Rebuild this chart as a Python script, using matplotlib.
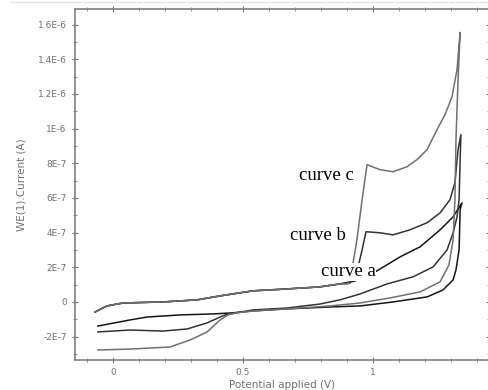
#CV curves a, b, c
import matplotlib.pyplot as plt
import numpy as np

#data (potential in V, current in 1e-7 A)
#common forward part at low potential
fwd_v = [-0.069, -0.023, 0.038, 0.192, 0.323, 0.412, 0.538, 0.669, 0.796, 0.873]
fwd_i = [-0.58, -0.23, -0.06, 0.0, 0.12, 0.35, 0.64, 0.75, 0.87, 1.04]

#curve a
a_v = [0.931, 1.008, 1.104, 1.181, 1.258, 1.308, 1.342,
       1.335, 1.331, 1.319, 1.308, 1.269, 1.208, 1.077, 0.950, 0.835, 0.669, 0.538, 0.45,
       0.385, 0.258, 0.131, 0.065, -0.058]
a_i = [1.21, 1.73, 2.60, 3.18, 4.16, 4.91, 5.72,
       5.32, 3.01, 1.85, 1.27, 0.69, 0.29, 0.0, -0.23, -0.29, -0.40, -0.52, -0.64,
       -0.69, -0.75, -0.87, -1.04, -1.39]

#curve b
b_v = [0.912, 0.938, 0.958, 0.973, 1.027, 1.077, 1.142, 1.208, 1.258, 1.296, 1.315, 1.327, 1.338,
       1.335, 1.331, 1.323, 1.308, 1.285, 1.231, 1.154, 1.054, 0.950, 0.873, 0.796, 0.669, 0.538, 0.431,
       0.412, 0.362, 0.285, 0.192, 0.065, -0.058]
b_i = [1.1, 1.73, 3.0, 4.05, 3.99, 3.87, 4.16, 4.57, 5.14, 5.9, 6.88, 8.79, 9.65,
       8.21, 5.9, 4.91, 3.99, 3.01, 2.02, 1.45, 1.04, 0.46, 0.12, -0.12, -0.35, -0.46, -0.75,
       -0.87, -1.21, -1.56, -1.68, -1.62, -1.73]

#curve c
c_v = [0.904, 0.919, 0.938, 0.958, 0.977, 1.027, 1.077, 1.131, 1.169, 1.208, 1.246, 1.277, 1.304, 1.323, 1.335,
       1.327, 1.319, 1.315, 1.308, 1.292, 1.258, 1.181, 1.065, 0.950, 0.835, 0.669, 0.538, 0.469,
       0.442, 0.412, 0.362, 0.296, 0.219, 0.065, -0.058]
c_i = [1.04, 1.85, 3.58, 5.9, 7.92, 7.63, 7.51, 7.8, 8.21, 8.79, 9.94, 10.81, 11.85, 13.41, 15.55,
       12.83, 9.36, 5.9, 3.58, 2.14, 1.16, 0.58, 0.23, -0.06, -0.23, -0.40, -0.52, -0.64,
       -0.75, -1.04, -1.73, -2.2, -2.6, -2.72, -2.77]

curves = [(a_v, a_i, "#151515"), (b_v, b_i, "#333333"), (c_v, c_i, "#707070")]

yticks = [-2e-7, 0, 2e-7, 4e-7, 6e-7, 8e-7, 1e-6, 1.2e-6, 1.4e-6, 1.6e-6]
ytick_labels = ["-2E-7", "0", "2E-7", "4E-7", "6E-7", "8E-7", "1E-6", "1.2E-6", "1.4E-6", "1.6E-6"]
xticks = [0, 0.5, 1]
xtick_labels = ["0", "0.5", "1"]

fig = plt.figure(figsize=(4.89, 3.9), dpi=100)
ax = fig.add_axes([0.1534, 0.0769, 0.8466, 0.9])

#faint frame line at the top of the picture
fig.add_artist(plt.Line2D([0.02, 1.0], [0.994, 0.994], color="#e6e6e6", lw=1))

#draw the loops
for v, i, col in curves:
    x = np.array(fwd_v + v)
    y = np.array(fwd_i + i) * 1e-7
    ax.plot(x, y, color=col, lw=1.1, solid_joinstyle="round")

#labels on curves
ax.text(0.819, 7.28e-7, "curve c", family="Liberation Serif", size=13.5, ha="center", va="center")
ax.text(0.788, 3.81e-7, "curve b", family="Liberation Serif", size=13.5, ha="center", va="center")
ax.text(0.904, 1.73e-7, "curve a", family="Liberation Serif", size=13.5, ha="center", va="center",
        bbox=dict(facecolor="white", edgecolor="none", pad=0.5))

#axes range and ticks
ax.set_xlim(-0.146, 1.446)
ax.set_ylim(-3.35e-7, 1.69e-6)
ax.set_xticks(xticks)
ax.set_xticklabels(xtick_labels)
ax.set_yticks(yticks)
ax.set_yticklabels(ytick_labels)
ax.set_xticks(np.arange(-0.1, 1.45, 0.1), minor=True)
ax.set_yticks(np.arange(-3e-7, 1.7e-6, 1e-7), minor=True)
ax.tick_params(which="both", direction="inout", top=True, right=True, labelsize=6.5,
               labelcolor="#707070", color="#777777")
ax.tick_params(which="major", length=5, width=0.8)
ax.tick_params(which="minor", length=3, width=0.6)
for s in ax.spines.values():
    s.set_color("#808080")
    s.set_linewidth(1.2)

ax.set_xlabel("Potential applied (V)", size=7.5, color="#707070", labelpad=2)
ax.set_ylabel("WE(1).Current (A)", size=7.5, color="#707070", labelpad=8)

fig.savefig("out.png", dpi=100)
